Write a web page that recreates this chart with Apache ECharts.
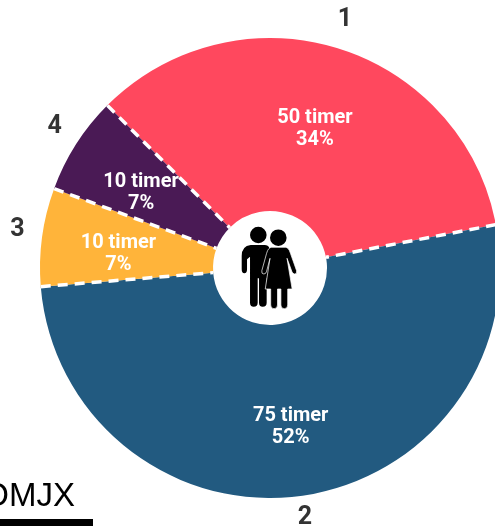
<!DOCTYPE html>
<html lang="en">
<head>
<meta charset="UTF-8">
<title>timer</title>
<style>html,body{margin:0;padding:0;background:#fff}#main{width:495px;height:526px}</style>
<script src="https://cdn.jsdelivr.net/npm/echarts@6/dist/echarts.min.js"></script>
</head>
<body>
<div id="main"></div>
<script>
var categories = ['1', '2', '3', '4'];
var hours = [50, 75, 10, 10];
var colors = ['#ff485e', '#225a80', '#ffb43a', '#4a1a55'];
var unit = 'timer';
var source = 'OMJX';

var cx = 270, cy = 268, inner = 57, outer = 230;
var total = hours.reduce(function (a, b) { return a + b; }, 0);
// små justeringer af tallene udenfor
var numberOffsets = [[-1, -1], [0, -7], [4, -3], [3, -2]];

var pieData = categories.map(function (c, i) {
    return { name: c, value: hours[i], itemStyle: { color: colors[i] } };
});
var ghostData = categories.map(function (c, i) {
    return { name: c, value: hours[i] };
});
var numberData = categories.map(function (c, i) {
    return { name: c, value: hours[i], label: { offset: numberOffsets[i] } };
});

// stiplede skillelinjer mellem stykkerne
var dividers = [];
var sum = 0;
hours.forEach(function (h) {
    dividers.push({
        type: 'line',
        coordinateSystem: 'polar',
        symbol: 'none',
        silent: true,
        z: 5,
        lineStyle: { color: '#fff', width: 3.5, type: [10, 7] },
        data: [[outer, sum], [inner, sum]]
    });
    sum += h;
});

// ikon i midten: mand og kvinde
function renderIcon() {
    var manPath = 'M182 135 H225 Q240 135 240 155 V235 H230 V308 Q230 320 218 320 Q207 320 207 308 V235 H203 V308 Q203 320 191 320 Q180 320 180 308 V170 L171 178 V208 Q171 220 163 220 Q155 220 155 208 V168 Q155 138 182 135 Z';
    var womanPath = 'M245 142 H285 Q295 142 300 160 L318 212 Q320 222 312 222 Q306 222 304 214 L290 175 L305 267 H292 V315 Q292 326 282 326 Q272 326 272 315 V267 H262 V315 Q262 326 252 326 Q242 326 242 315 V267 H226 L240 175 L230 214 Q228 222 222 222 Q214 222 216 212 L230 160 Q235 142 245 142 Z';
    return {
        type: 'group',
        children: [
            { type: 'circle', shape: { cx: 258.3, cy: 235, r: 8.3 }, style: { fill: '#000' } },
            {
                type: 'path',
                shape: { pathData: manPath, layout: 'cover', x: 241.7, y: 245, width: 28.3, height: 61.7 },
                style: { fill: '#000' }
            },
            { type: 'circle', shape: { cx: 278.3, cy: 237.7, r: 8.3 }, style: { fill: '#000' } },
            {
                type: 'path',
                shape: { pathData: womanPath, layout: 'cover', x: 261.7, y: 247.3, width: 35, height: 61.4 },
                style: { fill: '#000', stroke: '#fff', lineWidth: 0.7 }
            }
        ]
    };
}

var chart = echarts.init(document.getElementById('main'), null, { renderer: 'canvas' });
chart.setOption({
    animation: false,
    polar: { center: [cx, cy], radius: outer },
    angleAxis: { type: 'value', min: 0, max: total, startAngle: 135, show: false },
    radiusAxis: { type: 'value', min: 0, max: outer, show: false },
    series: [
        {
            type: 'pie', center: [cx, cy], radius: [inner, outer], startAngle: 135,
            silent: true, label: { show: false }, labelLine: { show: false }, data: pieData, z: 2
        },
        // tal udenfor
        {
            type: 'pie', center: [cx, cy], radius: [240, 272], startAngle: 135, silent: true, z: 3,
            itemStyle: { color: 'transparent' }, labelLine: { show: false },
            label: {
                show: true, position: 'inside', formatter: '{b}', color: '#333',
                fontFamily: 'Roboto', fontWeight: 'bold', fontSize: 25
            },
            data: numberData
        },
        // tekst inde i stykkerne
        {
            type: 'pie', center: [cx, cy], radius: [70, 230], startAngle: 135, silent: true, z: 6,
            percentPrecision: 0,
            itemStyle: { color: 'transparent' }, labelLine: { show: false },
            label: {
                show: true, position: 'inside', formatter: '{c} ' + unit + '\n{d}%', color: '#fff',
                fontFamily: 'Roboto', fontWeight: 'bold', fontSize: 20, lineHeight: 22, offset: [0, 7]
            },
            data: ghostData
        },
        { type: 'custom', coordinateSystem: 'none', silent: true, z: 20, renderItem: renderIcon, data: [0] }
    ].concat(dividers),
    graphic: [
        {
            type: 'text', x: 75, y: 513, z: 20,
            style: {
                text: source, fill: '#000', font: '33px "Liberation Sans", Arial, sans-serif',
                textAlign: 'right', textVerticalAlign: 'bottom'
            }
        },
        { type: 'rect', shape: { x: 0, y: 519, width: 93, height: 7 }, style: { fill: '#000' }, z: 20 }
    ]
});
</script>
</body>
</html>
